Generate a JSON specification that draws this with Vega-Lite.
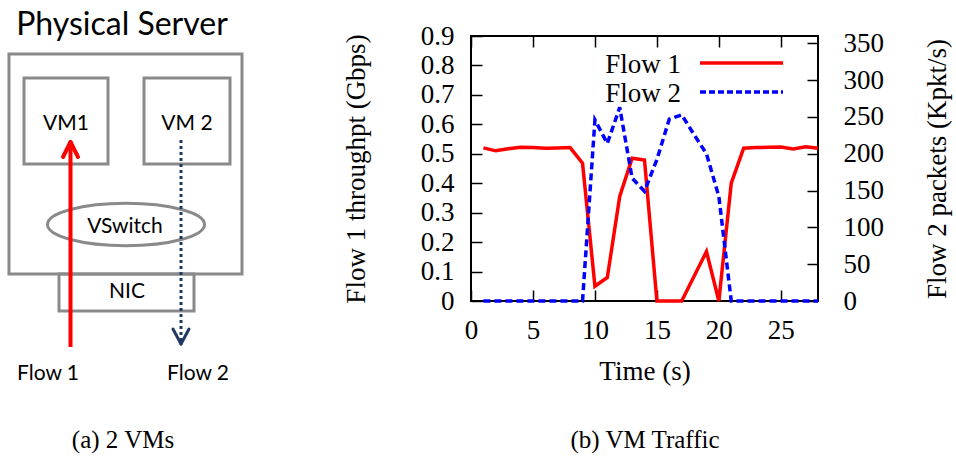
{
  "$schema": "https://vega.github.io/schema/vega-lite/v6.json",
  "width": 347,
  "height": 265,
  "autosize": {"type": "none"},
  "padding": {"left": 471, "top": 36, "right": 138, "bottom": 157},
  "background": "white",
  "config": {
    "view": {"stroke": "black", "strokeWidth": 2},
    "font": "Liberation Serif",
    "axis": {
      "domain": false, "grid": false, "ticks": true, "tickSize": -11, "tickWidth": 1.5, "tickColor": "black",
      "labelFont": "Liberation Serif", "labelFontSize": 27, "labelColor": "black",
      "titleFont": "Liberation Serif", "titleFontSize": 27, "titleFontWeight": "normal", "titleColor": "black",
      "labelOverlap": false, "labelFlush": false
    }
  },
  "datasets": {
    "flows": [
      {"t": 1, "f1": 0.52, "f2": 0},
      {"t": 2, "f1": 0.51, "f2": 0},
      {"t": 3, "f1": 0.517, "f2": 0},
      {"t": 4, "f1": 0.522, "f2": 0},
      {"t": 5, "f1": 0.521, "f2": 0},
      {"t": 6, "f1": 0.519, "f2": 0},
      {"t": 7, "f1": 0.52, "f2": 0},
      {"t": 8, "f1": 0.521, "f2": 0},
      {"t": 9, "f1": 0.468, "f2": 0},
      {"t": 10, "f1": 0.05, "f2": 246},
      {"t": 11, "f1": 0.08, "f2": 214},
      {"t": 12, "f1": 0.355, "f2": 263},
      {"t": 13, "f1": 0.485, "f2": 167},
      {"t": 14, "f1": 0.479, "f2": 149},
      {"t": 15, "f1": 0, "f2": 192},
      {"t": 16, "f1": 0, "f2": 247},
      {"t": 17, "f1": 0, "f2": 253},
      {"t": 18, "f1": 0.084, "f2": 226},
      {"t": 19, "f1": 0.168, "f2": 200},
      {"t": 20, "f1": 0, "f2": 142},
      {"t": 21, "f1": 0.4, "f2": 0},
      {"t": 22, "f1": 0.519, "f2": 0},
      {"t": 23, "f1": 0.521, "f2": 0},
      {"t": 24, "f1": 0.522, "f2": 0},
      {"t": 25, "f1": 0.523, "f2": 0},
      {"t": 26, "f1": 0.516, "f2": 0},
      {"t": 27, "f1": 0.524, "f2": 0},
      {"t": 28, "f1": 0.519, "f2": 0}
    ],
    "boxes": [
      {"name": "server", "x": 9, "x2": 242, "y": 54, "y2": 274},
      {"name": "VM1", "x": 24, "x2": 108, "y": 78, "y2": 164},
      {"name": "VM 2", "x": 144, "x2": 230, "y": 78, "y2": 164},
      {"name": "NIC", "x": 59, "x2": 194, "y": 274, "y2": 311}
    ],
    "ellipse": [{"name": "VSwitch", "x": 126, "y": 224.5}],
    "arrows": [
      {"flow": "Flow 1", "x": 70.5, "y": 347, "x2": 70.5, "y2": 143},
      {"flow": "Flow 2", "x": 181, "y": 140, "x2": 181, "y2": 342}
    ],
    "heads": [
      {"flow": "Flow 1", "x": 63, "y": 157, "x2": 70.5, "y2": 142},
      {"flow": "Flow 1", "x": 78, "y": 157, "x2": 70.5, "y2": 142},
      {"flow": "Flow 2", "x": 173, "y": 329, "x2": 181, "y2": 344},
      {"flow": "Flow 2", "x": 189, "y": 329, "x2": 181, "y2": 344}
    ],
    "diagramTitle": [{"label": "Physical Server", "x": 122, "y": 35}],
    "diagramText": [
      {"label": "VM1", "x": 66, "y": 130},
      {"label": "VM 2", "x": 187, "y": 130},
      {"label": "VSwitch", "x": 125, "y": 233},
      {"label": "NIC", "x": 127, "y": 298},
      {"label": "Flow 1", "x": 48, "y": 380},
      {"label": "Flow 2", "x": 198, "y": 380}
    ],
    "captions": [
      {"label": "(a)  2 VMs", "x": 123, "y": 448},
      {"label": "(b)  VM Traffic", "x": 645, "y": 448}
    ],
    "legendLines": [
      {"series": "Flow 1", "x": 700, "x2": 783, "y": 63},
      {"series": "Flow 2", "x": 700, "x2": 783, "y": 92}
    ],
    "legendText": [
      {"label": "Flow 1", "x": 681, "y": 73},
      {"label": "Flow 2", "x": 681, "y": 102}
    ]
  },
  "layer": [
    {
      "layer": [
        {
          "data": {"name": "flows"},
          "mark": {"type": "line", "color": "#ff0000", "strokeWidth": 3.5},
          "encoding": {
            "x": {"field": "t", "type": "quantitative",
                  "scale": {"domain": [0, 28], "nice": false, "zero": false},
                  "axis": {"orient": "bottom", "values": [0, 5, 10, 15, 20, 25], "title": "Time (s)", "labelPadding": 27.5, "titlePadding": 15}},
            "y": {"field": "f1", "type": "quantitative",
                  "scale": {"domain": [0, 0.9], "nice": false},
                  "axis": {"orient": "left", "values": [0, 0.1, 0.2, 0.3, 0.4, 0.5, 0.6, 0.7, 0.8, 0.9], "format": "~g", "title": "Flow 1 throughpt (Gbps)", "labelPadding": 28, "titlePadding": 50}}
          }
        },
        {
          "data": {"name": "flows"},
          "mark": {"type": "line", "color": "#0000ff", "strokeWidth": 3.5, "strokeDash": [7, 4]},
          "encoding": {
            "x": {"field": "t", "type": "quantitative",
                  "scale": {"domain": [0, 28], "nice": false, "zero": false},
                  "axis": {"orient": "top", "values": [0, 5, 10, 15, 20, 25], "labels": false, "title": null}},
            "y": {"field": "f2", "type": "quantitative",
                  "scale": {"domain": [0, 360], "nice": false},
                  "axis": {"orient": "right", "values": [0, 50, 100, 150, 200, 250, 300, 350], "title": "Flow 2 packets (Kpkt/s)", "labelPadding": 36, "titlePadding": 41, "titleAngle": -90, "titleBaseline": "top"}}
          }
        }
      ],
      "resolve": {"scale": {"y": "independent"}}
    },
    {
      "encoding": {
        "x": {"field": "x", "type": "quantitative", "scale": {"domain": [471, 818], "nice": false, "zero": false}, "axis": null},
        "y": {"field": "y", "type": "quantitative", "scale": {"domain": [36, 301], "nice": false, "zero": false, "reverse": true}, "axis": null}
      },
      "layer": [
        {
          "data": {"name": "boxes"},
          "mark": {"type": "rect", "filled": false, "color": "#8a8a8a", "strokeWidth": 3},
          "encoding": {"x2": {"field": "x2"}, "y2": {"field": "y2"}}
        },
        {
          "data": {"name": "ellipse"},
          "mark": {"type": "point", "shape": "M -1 0 A 1 0.27 0 1 0 1 0 A 1 0.27 0 1 0 -1 0 Z", "size": 24649, "filled": false, "color": "#8a8a8a", "strokeWidth": 3, "opacity": 1}
        },
        {
          "data": {"name": "arrows"},
          "transform": [{"filter": "datum.flow === 'Flow 1'"}],
          "mark": {"type": "rule", "color": "#ff0000", "strokeWidth": 4},
          "encoding": {"x2": {"field": "x2"}, "y2": {"field": "y2"}}
        },
        {
          "data": {"name": "arrows"},
          "transform": [{"filter": "datum.flow === 'Flow 2'"}],
          "mark": {"type": "rule", "color": "#1f3864", "strokeWidth": 3, "strokeDash": [3, 3]},
          "encoding": {"x2": {"field": "x2"}, "y2": {"field": "y2"}}
        },
        {
          "data": {"name": "heads"},
          "transform": [{"filter": "datum.flow === 'Flow 1'"}],
          "mark": {"type": "rule", "color": "#ff0000", "strokeWidth": 4, "strokeCap": "round"},
          "encoding": {"x2": {"field": "x2"}, "y2": {"field": "y2"}}
        },
        {
          "data": {"name": "heads"},
          "transform": [{"filter": "datum.flow === 'Flow 2'"}],
          "mark": {"type": "rule", "color": "#1f3864", "strokeWidth": 3, "strokeCap": "round"},
          "encoding": {"x2": {"field": "x2"}, "y2": {"field": "y2"}}
        },
        {
          "data": {"name": "diagramTitle"},
          "mark": {"type": "text", "font": "Lato", "fontSize": 32, "align": "center", "baseline": "alphabetic", "color": "#000000"},
          "encoding": {"text": {"field": "label"}}
        },
        {
          "data": {"name": "diagramText"},
          "mark": {"type": "text", "font": "Lato", "fontSize": 21, "align": "center", "baseline": "alphabetic", "color": "#000000"},
          "encoding": {"text": {"field": "label"}}
        },
        {
          "data": {"name": "captions"},
          "mark": {"type": "text", "font": "Liberation Serif", "fontSize": 25, "align": "center", "baseline": "alphabetic", "color": "#000000"},
          "encoding": {"text": {"field": "label"}}
        },
        {
          "data": {"name": "legendLines"},
          "transform": [{"filter": "datum.series === 'Flow 1'"}],
          "mark": {"type": "rule", "color": "#ff0000", "strokeWidth": 3.5},
          "encoding": {"x2": {"field": "x2"}}
        },
        {
          "data": {"name": "legendLines"},
          "transform": [{"filter": "datum.series === 'Flow 2'"}],
          "mark": {"type": "rule", "color": "#0000ff", "strokeWidth": 3.5, "strokeDash": [6, 3]},
          "encoding": {"x2": {"field": "x2"}}
        },
        {
          "data": {"name": "legendText"},
          "mark": {"type": "text", "font": "Liberation Serif", "fontSize": 27, "align": "right", "baseline": "alphabetic", "color": "#000000"},
          "encoding": {"text": {"field": "label"}}
        }
      ]
    }
  ],
  "resolve": {"scale": {"x": "independent", "y": "independent"}}
}
